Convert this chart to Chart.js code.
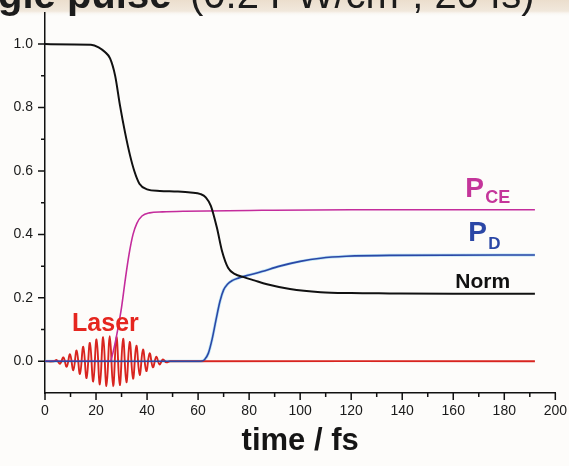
<!DOCTYPE html>
<html>
<head>
<meta charset="utf-8">
<script src="https://cdn.jsdelivr.net/npm/chart.js@4"></script>
<style>
  body { margin: 0; background: #fdfcfa; }
  canvas { display: block; }
</style>
</head>
<body>
<canvas id="chart" width="569" height="466"></canvas>
<script>
// norm of the wave packet
const normTime = [0, 18, 21, 23.5, 25.5, 27.5, 29.4, 31.4, 33.3, 35, 37, 40, 45, 52, 57, 61, 63, 65, 67.4, 69.4, 71.8, 74.5, 77.6, 82, 87, 96, 108, 120, 135, 160, 192];
const normVal = [1.0, 0.998, 0.99, 0.975, 0.955, 0.9, 0.806, 0.72, 0.65, 0.6, 0.56, 0.542, 0.537, 0.535, 0.532, 0.527, 0.517, 0.49, 0.42, 0.347, 0.294, 0.275, 0.266, 0.255, 0.243, 0.228, 0.218, 0.215, 0.214, 0.213, 0.213];

// Coulomb explosion probability
const pceTime = [0, 25.5, 27, 28.5, 30, 31.5, 33, 34.5, 36, 38, 41, 46, 55, 85, 120, 192];
const pceVal = [0, 0, 0.04, 0.1, 0.17, 0.26, 0.34, 0.4, 0.435, 0.458, 0.468, 0.471, 0.473, 0.476, 0.478, 0.478];

// dissociation probability
const pdTime = [0, 61, 62.5, 64, 65.5, 67, 68.6, 70, 71.5, 73.5, 76, 80, 85, 92, 100, 108, 118, 135, 192];
const pdVal = [0, 0, 0.005, 0.025, 0.07, 0.13, 0.19, 0.225, 0.243, 0.255, 0.263, 0.272, 0.283, 0.3, 0.315, 0.325, 0.331, 0.334, 0.335];

// laser field, extrema of each half cycle
const laserTime = [0, 3.5, 4.6, 5.9, 7.2, 8.5, 9.8, 11.1, 12.4, 13.7, 15.0, 16.3, 17.6, 18.9, 20.2, 21.5, 22.8, 24.1, 25.4, 26.7, 28.0, 29.3, 30.6, 31.9, 33.2, 34.5, 35.8, 37.1, 38.4, 39.7, 41.0, 42.3, 43.6, 44.9, 46.2, 47.5, 49, 192];
const laserVal = [0, 0, 0.004, -0.008, 0.012, -0.017, 0.022, -0.028, 0.034, -0.04, 0.046, -0.053, 0.058, -0.064, 0.069, -0.073, 0.076, -0.078, 0.079, -0.079, 0.077, -0.075, 0.071, -0.066, 0.061, -0.055, 0.049, -0.043, 0.037, -0.031, 0.025, -0.019, 0.014, -0.01, 0.006, -0.003, 0, 0];

const xTicks = [0, 20, 40, 60, 80, 100, 120, 140, 160, 180, 200];
const yTicks = [0.0, 0.2, 0.4, 0.6, 0.8, 1.0];

const pts = (t, v) => t.map((x, i) => ({ x: x, y: v[i] }));

// minor + major tick marks drawn outward from the axes
const tickMarks = {
  id: 'tickMarks',
  afterDraw(chart) {
    const ctx = chart.ctx;
    const xs = chart.scales.x, ys = chart.scales.y;
    ctx.save();
    ctx.strokeStyle = '#111';
    ctx.lineWidth = 1.5;
    ctx.beginPath();
    for (let v = 0; v <= 200; v += 10) {
      const px = xs.getPixelForValue(v);
      const len = xTicks.includes(v) ? 7 : 4;
      ctx.moveTo(px, xs.top);
      ctx.lineTo(px, xs.top + len);
    }
    for (let k = 0; k <= 10; k++) {
      const py = ys.getPixelForValue(k / 10);
      const len = k % 2 === 0 ? 7 : 4;
      ctx.moveTo(ys.right, py);
      ctx.lineTo(ys.right - len, py);
    }
    ctx.stroke();
    ctx.restore();
  }
};

// heading strip and curve labels
const annotations = {
  id: 'annotations',
  beforeDraw(chart) {
    const ctx = chart.ctx;
    ctx.save();
    const g = ctx.createLinearGradient(0, 0, 0, 16);
    g.addColorStop(0, '#ebdecd');
    g.addColorStop(0.7, '#f1e8dc');
    g.addColorStop(1, 'rgba(253,252,250,0)');
    ctx.fillStyle = g;
    ctx.fillRect(0, 0, chart.width, 16);
    ctx.fillStyle = '#1c1c1c';
    ctx.textBaseline = 'alphabetic';
    ctx.font = 'bold 40px "Liberation Sans", Arial, sans-serif';
    ctx.fillText('gle pulse', -2, 8);
    ctx.font = '40px "Liberation Sans", Arial, sans-serif';
    ctx.fillText('(0.2 PW/cm\u00b2, 20 fs)', 190, 8);
    ctx.restore();
  },
  afterDraw(chart) {
    const ctx = chart.ctx;
    const xs = chart.scales.x, ys = chart.scales.y;
    const X = v => xs.getPixelForValue(v), Y = v => ys.getPixelForValue(v);
    const bold = s => 'bold ' + s + 'px "Liberation Sans", Arial, sans-serif';
    ctx.save();
    ctx.textBaseline = 'alphabetic';
    ctx.textAlign = 'left';

    ctx.fillStyle = '#c4359a';
    ctx.font = bold(28);
    ctx.fillText('P', X(164.7), Y(0.518));
    ctx.font = bold(18);
    ctx.fillText('CE', X(172.5), Y(0.499));

    ctx.fillStyle = '#2b47a6';
    ctx.font = bold(28);
    ctx.fillText('P', X(165.9), Y(0.38));
    ctx.font = bold(17);
    ctx.fillText('D', X(173.7), Y(0.355));

    ctx.fillStyle = '#111';
    ctx.font = bold(21);
    ctx.fillText('Norm', X(160.8), Y(0.23));

    ctx.fillStyle = '#e5261f';
    ctx.font = bold(25);
    ctx.fillText('Laser', X(10.6), Y(0.097));
    ctx.restore();
  }
};

new Chart(document.getElementById('chart'), {
  type: 'line',
  data: {
    datasets: [
      { label: 'Norm', data: pts(normTime, normVal), borderColor: '#111', borderWidth: 2, cubicInterpolationMode: 'monotone', order: 0 },
      { label: 'PD', data: pts(pdTime, pdVal), borderColor: '#2b47a6', borderWidth: 1.6, cubicInterpolationMode: 'monotone', order: 1 },
      { label: 'PCE', data: pts(pceTime, pceVal), borderColor: '#c42c9c', borderWidth: 1.6, cubicInterpolationMode: 'monotone', order: 2 },
      { label: 'Laser', data: pts(laserTime, laserVal), borderColor: '#d8241f', borderWidth: 1.9, tension: 0.4, order: 3 },
      { label: 'PD halo', data: pts(pdTime, pdVal), borderColor: 'rgba(130,205,240,0.55)', borderWidth: 3, cubicInterpolationMode: 'monotone', order: 4 }
    ]
  },
  options: {
    responsive: false,
    animation: false,
    devicePixelRatio: 1,
    layout: { padding: { top: 2, right: 8, left: 0, bottom: 0 } },
    elements: { point: { radius: 0 } },
    plugins: { legend: { display: false }, tooltip: { enabled: false } },
    scales: {
      x: {
        type: 'linear',
        min: 0, max: 200,
        afterFit: s => { s.height = 73; },
        grid: { display: false },
        border: { display: true, color: '#111', width: 1.5 },
        ticks: {
          stepSize: 10,
          padding: 2,
          maxRotation: 0,
          autoSkip: false,
          color: '#1a1a1a',
          font: { family: '"Liberation Sans", Arial, sans-serif', size: 14 },
          callback: v => xTicks.includes(v) ? String(v) : ''
        },
        title: {
          display: true,
          text: 'time / fs',
          color: '#151515',
          font: { family: '"Liberation Sans", Arial, sans-serif', size: 31, weight: 'bold' },
          padding: { top: 0, bottom: 6 }
        }
      },
      y: {
        type: 'linear',
        min: -0.1, max: 1.1,
        afterFit: s => { s.width = 45; },
        grid: { display: false },
        border: { display: true, color: '#111', width: 1.5 },
        ticks: {
          stepSize: 0.1,
          padding: 4,
          autoSkip: false,
          color: '#1a1a1a',
          font: { family: '"Liberation Sans", Arial, sans-serif', size: 14 },
          callback: v => {
            const k = Math.round(v * 10);
            return (k >= 0 && k <= 10 && k % 2 === 0) ? yTicks[k / 2].toFixed(1) : '';
          }
        }
      }
    }
  },
  plugins: [tickMarks, annotations]
});
</script>
</body>
</html>
